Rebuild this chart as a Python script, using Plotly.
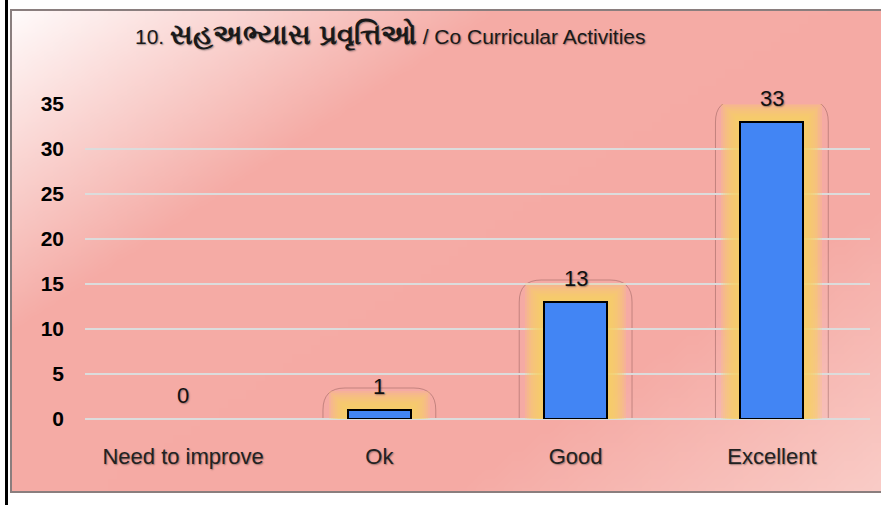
import base64, struct, zlib
import numpy as np
import plotly.graph_objects as go

# ---------------- data ----------------
categories = ["Need to improve", "Ok", "Good", "Excellent"]
values = [0, 1, 13, 33]
y_ticks = [0, 5, 10, 15, 20, 25, 30, 35]
title_num = "10."
title_gu = "સહઅભ્યાસ પ્રવૃત્તિઓ"
title_en = "/ Co Curricular Activities"

# ---------------- geometry helpers (pixels -> paper) ----------------
W, H = 881, 505
L, R, T, B = 85, 870, 104, 419
def px(p):
    return (p - L) / (R - L)
def py(p):
    return (B - p) / (B - T)

# ---------------- background gradient image ----------------
def gradient_png(w=96, h=54):
    xs = np.linspace(0, 1, w)[None, :]
    ys = np.linspace(0, 1, h)[:, None]
    t = (xs * 0.55 + ys * 0.45)
    stops = [0.0, 0.3, 0.72, 1.0]
    cols = np.array([[255, 250, 250], [245, 172, 166], [245, 170, 164], [250, 205, 200]], float)
    img = np.zeros((h, w, 3))
    for c in range(3):
        img[:, :, c] = np.interp(t, stops, cols[:, c])
    img = img.clip(0, 255).astype(np.uint8)
    raw = b"".join(b"\x00" + img[r].tobytes() for r in range(h))
    def chunk(tag, data):
        return struct.pack(">I", len(data)) + tag + data + struct.pack(">I", zlib.crc32(tag + data) & 0xffffffff)
    png = b"\x89PNG\r\n\x1a\n" + chunk(b"IHDR", struct.pack(">IIBBBBB", w, h, 8, 2, 0, 0, 0)) \
        + chunk(b"IDAT", zlib.compress(raw, 9)) + chunk(b"IEND", b"")
    return "data:image/png;base64," + base64.b64encode(png).decode()

FONT = "Liberation Sans, Arial, Noto Sans, sans-serif"
SHADOW = "1px 1px 1.5px rgba(0,0,0,0.35)"
bar_w = 0.32
px_x_unit = 1.0 * len(categories) / (R - L)   # category units per pixel
px_y_unit = 35.0 / (B - T)                    # value units per pixel

fig = go.Figure()

# glow layers
n_layers = 10
for k in range(n_layers, 0, -1):
    grow = k * 1.9
    fig.add_trace(go.Bar(
        x=list(range(len(categories))),
        y=[(v + grow * px_y_unit) if v > 0 else 0 for v in values],
        width=bar_w + 2 * grow * px_x_unit,
        marker=dict(color="rgba(252,208,100,0.2)", line=dict(width=0)),
        hoverinfo="skip", showlegend=False,
    ))

# main bars
fig.add_trace(go.Bar(
    x=list(range(len(categories))),
    y=values,
    width=bar_w,
    marker=dict(color="#4285F4",
                line=dict(color="#000000", width=[2 if v > 0 else 0 for v in values])),
    showlegend=False,
))

shapes = []
# thin rounded outline around glow
for i, v in enumerate(values):
    if v <= 0:
        continue
    x0 = i - bar_w / 2 - 25 * px_x_unit
    x1 = i + bar_w / 2 + 25 * px_x_unit
    y1 = v + 22 * px_y_unit
    rx = 22 * px_x_unit
    ry = 22 * px_y_unit
    path = (f"M {x0},0 L {x0},{y1 - ry} Q {x0},{y1} {x0 + rx},{y1} "
            f"L {x1 - rx},{y1} Q {x1},{y1} {x1},{y1 - ry} L {x1},0")
    shapes.append(dict(type="path", path=path, xref="x", yref="y",
                       line=dict(color="rgba(120,70,70,0.4)", width=1), layer="below"))

# chart frame
shapes.append(dict(type="rect", xref="paper", yref="paper",
                   x0=px(11), x1=px(895), y0=py(492), y1=py(10),
                   line=dict(color="#8a7e7e", width=2), layer="below"))
# black vertical bar at left
shapes.append(dict(type="line", xref="paper", yref="paper",
                   x0=px(6.5), x1=px(6.5), y0=py(510), y1=py(-5),
                   line=dict(color="#000000", width=3)))

annotations = []
for i, v in enumerate(values):
    annotations.append(dict(x=i, y=v, xref="x", yref="y", text=str(v),
                            showarrow=False, yshift=24, yanchor="middle",
                            font=dict(family=FONT, size=22, color="#111111", shadow=SHADOW)))
title_html = (f"{title_num} <span style='font-size:28px;font-weight:bold'>{title_gu}</span> {title_en}")
annotations.append(dict(x=px(133), y=py(35), xref="paper", yref="paper",
                        xanchor="left", yanchor="middle", text=title_html, showarrow=False,
                        font=dict(family=FONT, size=21, color="#1a1a1a", shadow=SHADOW)))

fig.update_layout(
    width=W, height=H,
    margin=dict(l=L, r=W - R, t=T, b=H - B),
    paper_bgcolor="white", plot_bgcolor="rgba(0,0,0,0)",
    barmode="overlay", bargap=0,
    shapes=shapes, annotations=annotations,
    images=[dict(source=gradient_png(), xref="paper", yref="paper",
                 x=px(11), y=py(10), sizex=px(895) - px(11), sizey=py(10) - py(492),
                 xanchor="left", yanchor="top", sizing="stretch", layer="below")],
    font=dict(family=FONT),
)
fig.update_xaxes(
    range=[-0.5, len(categories) - 0.5],
    tickmode="array", tickvals=list(range(len(categories))), ticktext=categories,
    tickfont=dict(family=FONT, size=22, color="#222222", shadow=SHADOW),
    ticklabelstandoff=22, showgrid=False, zeroline=False, showline=False, ticks="",
)
fig.update_yaxes(
    range=[0, 35], tickmode="array", tickvals=y_ticks,
    tickfont=dict(family=FONT, size=21, color="#000000", weight="bold"),
    ticklabelstandoff=20, showgrid=True, gridcolor="#DCDCDC", gridwidth=2,
    zeroline=True, zerolinecolor="#DCDCDC", zerolinewidth=2, showline=False, ticks="",
)

fig.write_html("out.html", config={"displayModeBar": False},
               post_script="document.body.style.margin='0';")
